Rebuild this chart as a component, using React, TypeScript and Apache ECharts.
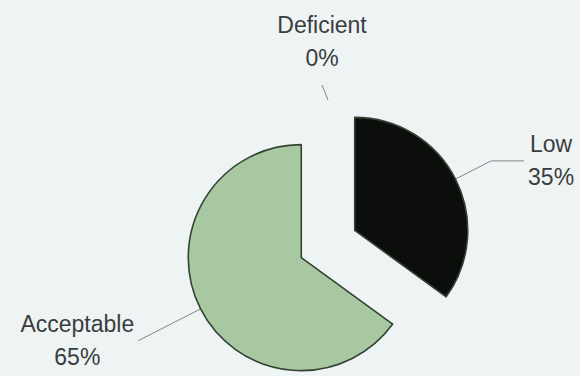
import React, { useEffect, useRef } from "react";
import * as echarts from "echarts";

// Slice order runs clockwise from twelve o'clock.
const categories = ["Low", "Acceptable", "Deficient"];
const percents = [35, 65, 0];
const sliceColors = ["#0b0e0b", "#a8c8a2", "#c9d6c6"];
const explodedSlices = [true, true, false];

// Leader line lengths (radial part, horizontal part) for the exploded slices.
const leaderLengths: [number, number][] = [
  [40, 33],
  [70, 0],
  [0, 0],
];

// The empty slice gets a free-standing label above the pie.
const emptyLabelSpot: [number, number] = [322, 41];
const emptyLeader: [number, number][] = [
  [328, 100],
  [322, 85],
];

const FONT = "Liberation Sans, Arial, sans-serif";

export default function App() {
  const ref = useRef<HTMLDivElement>(null);

  useEffect(() => {
    document.body.style.margin = "0";
    const chart = echarts.init(ref.current!, null, { renderer: "svg" });
    chart.setOption({
      animation: false,
      backgroundColor: "#eef3f4",
      series: [
        {
          type: "pie",
          center: [328, 244],
          radius: [0, 113],
          startAngle: 90,
          clockwise: true,
          selectedMode: "multiple",
          selectedOffset: 30,
          avoidLabelOverlap: false,
          emphasis: { disabled: true },
          itemStyle: { borderColor: "#334233", borderWidth: 1.6 },
          label: {
            show: true,
            position: "outside",
            alignTo: "none",
            distanceToLabelLine: 4,
            formatter: "{t|{b}}\n{t|{d}%}",
            color: "#3a3d40",
            rich: {
              t: {
                align: "center",
                fontFamily: FONT,
                fontSize: 23,
                lineHeight: 33,
                color: "#3a3d40",
              },
            },
          },
          labelLine: {
            show: true,
            lineStyle: { color: "#7d8a8a", width: 1 },
          },
          labelLayout: (params: any) => {
            if (percents[params.dataIndex] !== 0) return {};
            return {
              x: emptyLabelSpot[0],
              y: emptyLabelSpot[1],
              align: "center",
              verticalAlign: "middle",
              labelLinePoints: emptyLeader,
            };
          },
          data: categories.map((name, i) => ({
            name,
            value: percents[i],
            selected: explodedSlices[i],
            itemStyle: {
              color: sliceColors[i],
              borderWidth: percents[i] === 0 ? 0 : 1.6,
            },
            labelLine: {
              length: leaderLengths[i][0],
              length2: leaderLengths[i][1],
            },
          })),
        },
      ],
    });
    return () => chart.dispose();
  }, []);

  return <div ref={ref} style={{ width: 580, height: 376 }} />;
}
